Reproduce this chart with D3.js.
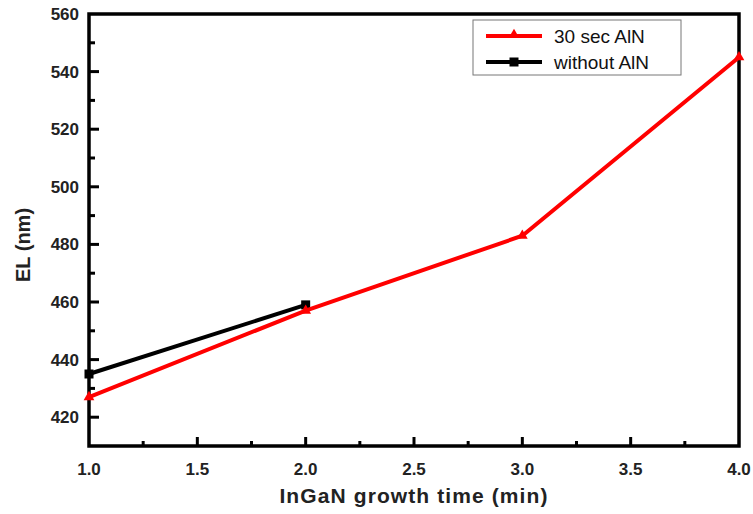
<!DOCTYPE html>
<html>
<head>
<meta charset="utf-8">
<script src="https://cdn.jsdelivr.net/npm/d3@7.9.0/dist/d3.min.js"></script>
<style>
  body { margin: 0; background: #fff; }
  svg { display: block; font-family: Arial, "Liberation Sans", sans-serif; }
</style>
</head>
<body>
<svg id="chart" width="753" height="514"></svg>
<script>
// ---- data ----
const growthTime = [1.0, 2.0, 3.0, 4.0];
const elWithAlN = [427, 457, 483, 545];
const timeNoAlN = [1.0, 2.0];
const elNoAlN = [435, 459];
const xTicks = [1.0, 1.5, 2.0, 2.5, 3.0, 3.5, 4.0];
const yTicks = [420, 440, 460, 480, 500, 520, 540, 560];
const seriesNames = ["30 sec AlN", "without AlN"];

const svg = d3.select("#chart");
const m = { left: 89, right: 14, top: 14, bottom: 68 };
const W = 753, H = 514;

const x = d3.scaleLinear().domain([1, 4]).range([m.left, W - m.right]);
const y = d3.scaleLinear().domain([410, 560]).range([H - m.bottom, m.top]);

// ---- frame ----
svg.append("rect")
  .attr("x", x(1)).attr("y", y(560))
  .attr("width", x(4) - x(1)).attr("height", y(410) - y(560))
  .attr("fill", "none").attr("stroke", "#000").attr("stroke-width", 3.5);

// ---- ticks (inward) ----
const g = svg.append("g").attr("stroke", "#000").attr("stroke-width", 3);
d3.range(1.25, 4, 0.25).forEach(v => {
  const major = Math.abs(v * 2 - Math.round(v * 2)) < 1e-6;
  g.append("line")
    .attr("x1", x(v)).attr("x2", x(v))
    .attr("y1", y(410)).attr("y2", y(410) - (major ? 9 : 5));
});
d3.range(420, 560, 10).forEach(v => {
  const major = v % 20 === 0;
  g.append("line")
    .attr("x1", x(1)).attr("x2", x(1) + (major ? 10 : 6))
    .attr("y1", y(v)).attr("y2", y(v));
});

// ---- tick labels ----
svg.append("g").selectAll("text").data(xTicks).join("text")
  .attr("x", d => x(d)).attr("y", y(410) + 29)
  .attr("text-anchor", "middle")
  .attr("font-size", 17).attr("font-weight", "bold").attr("fill", "#222")
  .text(d => d3.format(".1f")(d));

svg.append("g").selectAll("text").data(yTicks).join("text")
  .attr("x", x(1) - 10).attr("y", d => y(d) + 6)
  .attr("text-anchor", "end")
  .attr("font-size", 17).attr("font-weight", "bold").attr("fill", "#222")
  .text(d => d);

// ---- axis titles ----
svg.append("text")
  .attr("x", (x(1) + x(4)) / 2).attr("y", 503)
  .attr("text-anchor", "middle")
  .attr("font-size", 21).attr("font-weight", "bold").attr("fill", "#222")
  .attr("letter-spacing", 1.1)
  .text("InGaN growth time (min)");

svg.append("text")
  .attr("transform", `translate(30,${(y(410) + y(560)) / 2 + 15}) rotate(-90)`)
  .attr("text-anchor", "middle")
  .attr("font-size", 20).attr("font-weight", "bold").attr("fill", "#222")
  .text("EL (nm)");

// ---- lines ----
const line = d3.line().x(d => x(d[0])).y(d => y(d[1]));
const redPts = d3.zip(growthTime, elWithAlN);
const blackPts = d3.zip(timeNoAlN, elNoAlN);

svg.append("path").datum(blackPts).attr("d", line)
  .attr("fill", "none").attr("stroke", "#000").attr("stroke-width", 4);
svg.selectAll(".sq").data(blackPts).join("rect")
  .attr("x", d => x(d[0]) - 4.5).attr("y", d => y(d[1]) - 4.5)
  .attr("width", 9).attr("height", 9).attr("fill", "#000");

svg.append("path").datum(redPts).attr("d", line)
  .attr("fill", "none").attr("stroke", "#f00").attr("stroke-width", 4);
const tri = d3.symbol().type(d3.symbolTriangle).size(50);
svg.selectAll(".tri").data(redPts).join("path")
  .attr("d", tri)
  .attr("transform", d => `translate(${x(d[0])},${y(d[1])})`)
  .attr("fill", "#f00");

// ---- legend ----
const lg = svg.append("g").attr("transform", "translate(473,20)");
lg.append("rect").attr("width", 208).attr("height", 55)
  .attr("fill", "#fff").attr("stroke", "#777").attr("stroke-width", 1);
const colors = ["#f00", "#000"];
seriesNames.forEach((name, i) => {
  const yy = 16 + i * 26;
  lg.append("line").attr("x1", 13).attr("x2", 69).attr("y1", yy).attr("y2", yy)
    .attr("stroke", colors[i]).attr("stroke-width", 4);
  if (i === 0) {
    lg.append("path").attr("d", tri).attr("transform", `translate(41,${yy - 1})`).attr("fill", colors[i]);
  } else {
    lg.append("rect").attr("x", 36.5).attr("y", yy - 4.5).attr("width", 9).attr("height", 9).attr("fill", colors[i]);
  }
  lg.append("text").attr("x", 81).attr("y", yy + 7)
    .attr("font-size", 19).attr("fill", "#111")
    .text(name);
});
</script>
</body>
</html>
